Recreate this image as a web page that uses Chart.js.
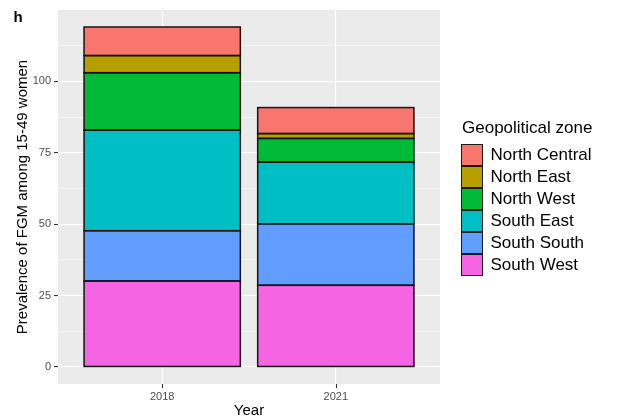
<!DOCTYPE html>
<html>
<head>
<meta charset="utf-8">
<script src="https://cdn.jsdelivr.net/npm/chart.js@4/dist/chart.umd.min.js"></script>
<style>
  html, body { margin: 0; padding: 0; background: #ffffff; }
  #wrap { width: 619px; height: 420px; position: relative; }
</style>
</head>
<body>
<div id="wrap"><canvas id="c" width="619" height="420"></canvas></div>
<script>
// Survey years (x categories)
const years = ['2018', '2021'];

// Prevalence of FGM by geopolitical zone, stacked bottom to top
const southWest    = [30.1, 28.6];
const southSouth   = [17.6, 21.5];
const southEast    = [35.2, 21.6];
const northWest    = [20.1, 8.3];
const northEast    = [6.0, 1.7];
const northCentral = [10.0, 9.1];

// Labelled y-axis breaks
const yBreaks = [0, 25, 50, 75, 100];

const zones = [
  { name: 'South West',    values: southWest,    color: '#F564E3' },
  { name: 'South South',   values: southSouth,   color: '#619CFF' },
  { name: 'South East',    values: southEast,    color: '#00BFC4' },
  { name: 'North West',    values: northWest,    color: '#00BA38' },
  { name: 'North East',    values: northEast,    color: '#B79F00' },
  { name: 'North Central', values: northCentral, color: '#F8766D' }
];

// ggplot-like 5% expansion of the stacked totals
const totals = years.map((_, i) => zones.reduce((s, z) => s + z.values[i], 0));
const yMaxData = Math.max(...totals);
const yPad = yMaxData * 0.05;

// minor breaks halfway between the labelled ones
const yMinor = [];
for (let i = 0; i < yBreaks.length; i++) {
  const step = i < yBreaks.length - 1 ? yBreaks[i + 1] - yBreaks[i] : yBreaks[1] - yBreaks[0];
  const m = yBreaks[i] + step / 2;
  if (m <= yMaxData + yPad) yMinor.push(m);
}
const isMajor = v => yBreaks.includes(v);

const FONT = "'Liberation Sans', Arial, sans-serif";

const panelBackground = {
  id: 'panelBackground',
  beforeDraw(chart) {
    const { ctx, chartArea: a } = chart;
    ctx.save();
    ctx.fillStyle = '#EBEBEB';
    ctx.fillRect(a.left, a.top, a.right - a.left, a.bottom - a.top);
    ctx.restore();
  }
};

// Single black outline around each stacked segment (shared edges drawn once)
const segmentOutlines = {
  id: 'segmentOutlines',
  afterDatasetsDraw(chart) {
    const ctx = chart.ctx;
    ctx.save();
    ctx.strokeStyle = '#141414';
    ctx.lineWidth = 1.5;
    chart.data.datasets.forEach((d, di) => {
      chart.getDatasetMeta(di).data.forEach(el => {
        const { x, y, base, width } = el.getProps(['x', 'y', 'base', 'width'], true);
        ctx.strokeRect(x - width / 2, Math.min(y, base), width, Math.abs(base - y));
      });
    });
    ctx.restore();
  }
};

// Short tick marks under the x axis at each category
const xTickMarks = {
  id: 'xTickMarks',
  afterDraw(chart) {
    const ctx = chart.ctx;
    const sx = chart.scales.x;
    ctx.save();
    ctx.strokeStyle = '#333333';
    ctx.lineWidth = 1.1;
    sx.ticks.forEach((t, i) => {
      const px = Math.round(sx.getPixelForTick(i)) + 0.5;
      ctx.beginPath();
      ctx.moveTo(px, chart.chartArea.bottom);
      ctx.lineTo(px, chart.chartArea.bottom + 4);
      ctx.stroke();
    });
    ctx.restore();
  }
};

// Legend drawn as a ggplot-style key, top entry = top of the stack
const zoneLegend = {
  id: 'zoneLegend',
  afterDraw(chart) {
    const ctx = chart.ctx;
    const x0 = 462, titleY = 128, rowTop = 144, rowH = 22;
    ctx.save();
    ctx.fillStyle = '#000';
    ctx.font = '17px ' + FONT;
    ctx.textBaseline = 'middle';
    ctx.textAlign = 'left';
    ctx.fillText('Geopolitical zone', x0, titleY);
    const ds = chart.data.datasets.slice().reverse();
    ds.forEach((d, i) => {
      const top = rowTop + i * rowH;
      ctx.fillStyle = d.backgroundColor;
      ctx.fillRect(x0, top + 0.5, 20, 21);
      ctx.strokeStyle = '#1A1A1A';
      ctx.lineWidth = 1;
      ctx.strokeRect(x0 - 0.5, top + 0.5, 21, 21);
      ctx.fillStyle = '#000';
      ctx.fillText(d.label, 490.5, top + rowH / 2 + 0.5);
    });
    // panel tag
    ctx.font = 'bold 15px ' + FONT;
    ctx.textBaseline = 'alphabetic';
    ctx.fillText('h', 13.5, 22);
    ctx.restore();
  }
};

new Chart(document.getElementById('c'), {
  type: 'bar',
  data: {
    datasets: zones.map(z => ({
      label: z.name,
      data: years.map((y, i) => ({ x: i + 1, y: z.values[i] })),
      backgroundColor: z.color,
      borderWidth: 0,
      categoryPercentage: 0.9,
      barPercentage: 1.0
    }))
  },
  options: {
    responsive: false,
    animation: false,
    layout: { padding: { top: 10, right: 179, left: 0, bottom: 0 } },
    plugins: {
      legend: { display: false },
      tooltip: { enabled: false },
      title: { display: false }
    },
    scales: {
      x: {
        type: 'linear',
        stacked: true,
        min: 0.4,
        max: years.length + 0.6,
        offset: false,
        afterBuildTicks: s => { s.ticks = years.map((_, i) => ({ value: i + 1 })); },
        afterFit: s => { s.height = 36; },
        ticks: {
          callback: v => years[v - 1],
          color: '#4D4D4D',
          font: { family: FONT, size: 11 },
          padding: 6,
          maxRotation: 0,
          autoSkip: false
        },
        grid: {
          offset: false,
          color: '#FFFFFF',
          lineWidth: 1.1,
          drawTicks: false
        },
        border: { display: false },
        title: {
          display: true,
          text: 'Year',
          color: '#000',
          font: { family: FONT, size: 15 },
          padding: { top: 0, bottom: 0 }
        }
      },
      y: {
        type: 'linear',
        stacked: true,
        min: -yPad,
        max: yMaxData + yPad,
        afterBuildTicks: s => {
          s.ticks = yBreaks.concat(yMinor).sort((a, b) => a - b).map(v => ({ value: v }));
        },
        afterFit: s => { s.width = 58; },
        ticks: {
          callback: v => (isMajor(v) ? String(v) : ''),
          color: '#4D4D4D',
          font: { family: FONT, size: 11 },
          padding: 3,
          autoSkip: false
        },
        grid: {
          color: '#FFFFFF',
          lineWidth: c => (isMajor(c.tick.value) ? 1.1 : 0.55),
          tickColor: c => (isMajor(c.tick.value) ? '#333333' : 'rgba(0,0,0,0)'),
          tickWidth: 1.1,
          tickLength: 4
        },
        border: { display: false },
        title: {
          display: true,
          text: 'Prevalence of FGM among 15-49 women',
          color: '#000',
          font: { family: FONT, size: 15 },
          padding: { top: 14, bottom: 0 }
        }
      }
    }
  },
  plugins: [panelBackground, segmentOutlines, xTickMarks, zoneLegend]
});
</script>
</body>
</html>
